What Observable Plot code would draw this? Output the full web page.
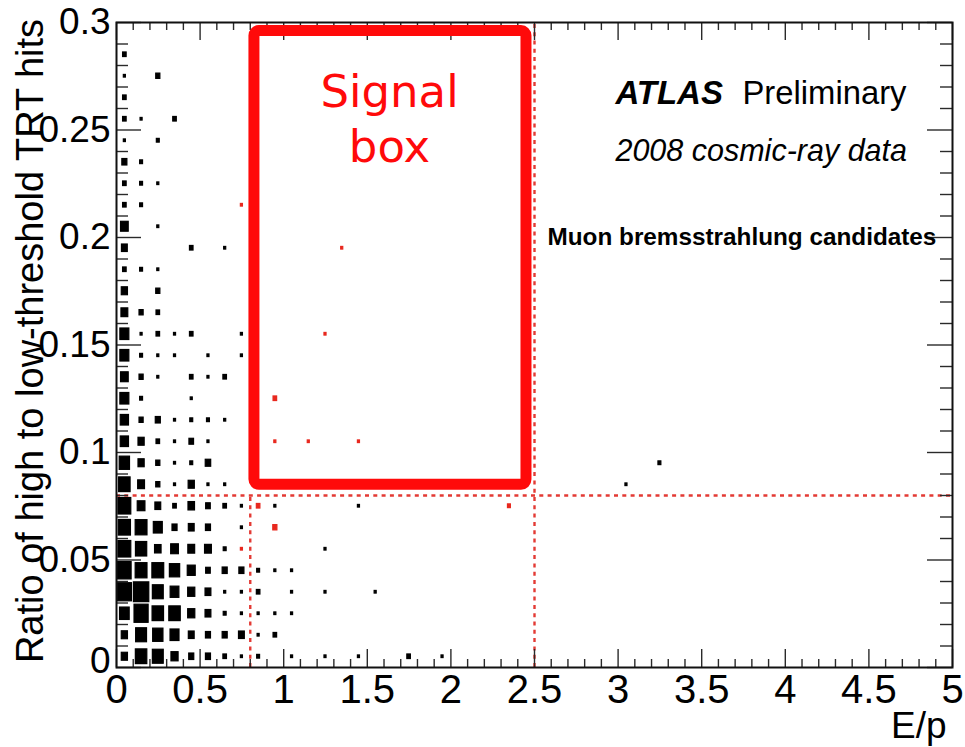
<!DOCTYPE html>
<html>
<head>
<meta charset="utf-8">
<script src="https://cdn.jsdelivr.net/npm/d3@7"></script>
<script src="https://cdn.jsdelivr.net/npm/@observablehq/plot@0.6"></script>
<style>
  html, body { margin: 0; padding: 0; background: #fff; }
  #chart { width: 965px; height: 747px; }
</style>
</head>
<body>
<div id="chart"></div>
<script>
// Histogram binning: E/p in steps of 0.1, hit ratio in steps of 0.01
const epBinWidth = 0.1;
const ratioBinWidth = 0.01;

// Entries per bin. Row j covers ratio [0.01 j, 0.01 (j+1)),
// column i covers E/p [0.1 i, 0.1 (i+1)).
const muonCounts = [
  [9, 31, 28, 12, 6, 6, 3, 1, 2, 0, 1, 0, 1, 0, 1],
  [9, 28, 25, 19, 8, 6, 6, 8, 1, 3],
  [22, 47, 31, 31, 12, 8, 2, 1, 1, 1, 1],
  [47, 56, 28, 18, 12, 8, 1, 1, 3, 0, 1, 0, 1, 0, 0, 1],
  [43, 33, 33, 25, 15, 5, 6, 6, 2, 1, 1],
  [39, 30, 10, 14, 11, 11, 2, 0, 0, 0, 0, 0, 1],
  [35, 33, 19, 6, 8, 6, 0, 1],
  [39, 14, 8, 3, 10, 5, 3, 1, 0, 1, 0, 0, 0, 0, 1],
  [31, 11, 4, 1, 9, 1, 1],
  [25, 9, 4, 1, 2, 7],
  [16, 9, 3, 1, 5, 1],
  [16, 4, 6, 1, 2, 2, 1],
  [19, 2, 0, 0, 1],
  [14, 4, 1, 0, 3, 1, 3],
  [19, 2, 1, 1, 0, 1, 0, 1],
  [19, 1, 3, 1, 3, 0, 0, 1],
  [11, 4, 3],
  [9, 0, 4],
  [3, 2, 1],
  [8, 0, 0, 0, 3, 0, 1],
  [14, 0, 1],
  [3, 2],
  [3, 2, 1],
  [6, 2],
  [1, 0, 2],
  [3, 1, 0, 3],
  [3],
  [1, 0, 4],
  [3],
  []
];

// Isolated entries at larger E/p: [E/p bin, ratio bin, entries]
const muonOutliers = [[17, 0, 3], [19, 0, 1], [30, 8, 1], [32, 9, 2]];

// Entries shown in red: [E/p bin, ratio bin, entries]
const redEntries = [
  [7, 21, 1], [13, 19, 1], [12, 15, 1], [9, 12, 3], [9, 10, 1], [11, 10, 1],
  [14, 10, 1], [8, 7, 3], [23, 7, 2], [9, 6, 4], [7, 5, 1]
];

// Selection cuts
const epCuts = [0.8, 2.5];
const ratioCut = 0.08;

// Hand-drawn signal box outline (E/p and ratio limits)
const signalBox = [{ep1: 0.825, ep2: 2.452, r1: 0.085, r2: 0.296}];

// Axis ticks
const xTicks = [0, 0.5, 1, 1.5, 2, 2.5, 3, 3.5, 4, 4.5, 5];
const yTicks = [0, 0.05, 0.1, 0.15, 0.2, 0.25, 0.3];
const xMinor = d3.range(0, 51).map(i => i / 10).filter(v => Math.round(v * 10) % 5 !== 0);
const yMinor = d3.range(0, 31).map(i => i / 100).filter(v => Math.round(v * 100) % 5 !== 0);

// Layout
const W = 965, H = 747;
const mTop = 22, mRight = 13, mBottom = 80, mLeft = 116;
const xDomain = [0, 5], yDomain = [0, 0.3];
const xPerPx = (xDomain[1] - xDomain[0]) / (W - mLeft - mRight);
const yPerPx = (yDomain[1] - yDomain[0]) / (H - mTop - mBottom);

// Flatten into cells
const muonCells = [];
muonCounts.forEach((row, j) => row.forEach((n, i) => {
  if (n > 0) muonCells.push({i, j, n});
}));
muonOutliers.forEach(([i, j, n]) => muonCells.push({i, j, n}));
const redCells = redEntries.map(([i, j, n]) => ({i, j, n}));

// Box surface proportional to bin content
const maxCount = d3.max(muonCells, d => d.n);
const frac = n => 0.92 * Math.sqrt(n / maxCount);
const boxRect = {
  x1: d => (d.i + 0.5) * epBinWidth - frac(d.n) * epBinWidth / 2,
  x2: d => (d.i + 0.5) * epBinWidth + frac(d.n) * epBinWidth / 2,
  y1: d => (d.j + 0.5) * ratioBinWidth - frac(d.n) * ratioBinWidth / 2,
  y2: d => (d.j + 0.5) * ratioBinWidth + frac(d.n) * ratioBinWidth / 2
};

const cutColor = "#e33a34";
const dash = "4,4.3";
const tickColor = "#2a2a2a";
const boxRed = "#ff0a0a";

const chart = Plot.plot({
  width: W,
  height: H,
  marginTop: mTop,
  marginRight: mRight,
  marginBottom: mBottom,
  marginLeft: mLeft,
  x: {domain: xDomain, axis: null},
  y: {domain: yDomain, axis: null},
  style: {fontFamily: "'Liberation Sans', Arial, Helvetica, sans-serif", background: "#fff", color: "#000"},
  marks: [
    // histogram boxes
    Plot.rect(muonCells, {...boxRect, fill: "#000", stroke: "#000", strokeWidth: 1.2}),
    Plot.rect(redCells, {...boxRect, fill: "#e8281e", stroke: "#e8281e", strokeWidth: 1.2}),

    // selection cuts
    Plot.ruleY([ratioCut], {stroke: cutColor, strokeWidth: 2.4, strokeDasharray: dash}),
    Plot.ruleX([epCuts[0]], {y1: () => 0, y2: () => ratioCut, stroke: cutColor, strokeWidth: 2.4, strokeDasharray: dash}),
    Plot.ruleX([epCuts[1]], {y1: () => yDomain[0], y2: () => yDomain[1], stroke: cutColor, strokeWidth: 2.4, strokeDasharray: dash}),

    // inward ticks on all four sides
    Plot.ruleX(xTicks, {x: d => d, y1: () => 0, y2: () => 18 * yPerPx, stroke: tickColor, strokeWidth: 1.4}),
    Plot.ruleX(xMinor, {x: d => d, y1: () => 0, y2: () => 8 * yPerPx, stroke: tickColor, strokeWidth: 1.4}),
    Plot.ruleX(xTicks, {x: d => d, y1: () => yDomain[1] - 18 * yPerPx, y2: () => yDomain[1], stroke: tickColor, strokeWidth: 1.4}),
    Plot.ruleX(xMinor, {x: d => d, y1: () => yDomain[1] - 8 * yPerPx, y2: () => yDomain[1], stroke: tickColor, strokeWidth: 1.4}),
    Plot.ruleY(yTicks, {y: d => d, x1: () => 0, x2: () => 25 * xPerPx, stroke: tickColor, strokeWidth: 1.4}),
    Plot.ruleY(yMinor, {y: d => d, x1: () => 0, x2: () => 12 * xPerPx, stroke: tickColor, strokeWidth: 1.4}),
    Plot.ruleY(yTicks, {y: d => d, x1: () => xDomain[1] - 25 * xPerPx, x2: () => xDomain[1], stroke: tickColor, strokeWidth: 1.4}),
    Plot.ruleY(yMinor, {y: d => d, x1: () => xDomain[1] - 12 * xPerPx, x2: () => xDomain[1], stroke: tickColor, strokeWidth: 1.4}),
    Plot.frame({stroke: "#111", strokeWidth: 2}),

    // tick labels (the zero of the ratio axis sits a little higher, clear of the E/p zero)
    Plot.text(xTicks, {x: d => d, text: d => String(d), frameAnchor: "bottom", lineAnchor: "top", dy: 7, fontSize: 40, ariaLabel: "x-tick-label"}),
    Plot.text(yTicks.filter(v => v > 0), {y: d => d, text: d => String(d), frameAnchor: "left", textAnchor: "end", dx: -6, fontSize: 37, ariaLabel: "y-tick-label"}),
    Plot.text(yTicks.filter(v => v === 0), {y: d => d, text: d => String(d), frameAnchor: "left", textAnchor: "end", dx: -6, dy: -6, fontSize: 37, ariaLabel: "y-tick-label"}),

    // axis titles
    Plot.text(["Ratio of high to low-threshold TRT hits"], {text: d => d, frameAnchor: "left", textAnchor: "middle", rotate: -90, dx: -86, dy: -4, fontSize: 38}),
    Plot.text(["E/p"], {text: d => d, frameAnchor: "bottom-right", textAnchor: "end", lineAnchor: "bottom", dx: -6, dy: 70, fontSize: 37}),

    // signal box annotation
    Plot.rect(signalBox, {x1: "ep1", x2: "ep2", y1: "r1", y2: "r2", fill: "none", stroke: boxRed, strokeWidth: 11, rx: 5}),
    Plot.text(["Signal"], {text: d => d, x: () => 1.633, y: () => 0.2609, lineAnchor: "bottom", fontSize: 45, fill: boxRed, fontFamily: "'DejaVu Sans', sans-serif", ariaLabel: "signal-word"}),
    Plot.text(["box"], {text: d => d, x: () => 1.633, y: () => 0.2349, lineAnchor: "bottom", fontSize: 45, fill: boxRed, fontFamily: "'DejaVu Sans', sans-serif", ariaLabel: "box-word"}),

    // plot legend text
    Plot.text(["ATLAS"], {text: d => d, x: () => 2.984, y: () => 0.2619, textAnchor: "start", lineAnchor: "bottom", fontSize: 33, fontWeight: "bold", fontStyle: "italic"}),
    Plot.text(["Preliminary"], {text: d => d, x: () => 3.744, y: () => 0.2619, textAnchor: "start", lineAnchor: "bottom", fontSize: 32.8}),
    Plot.text(["2008 cosmic-ray data"], {text: d => d, x: () => 2.984, y: () => 0.2358, textAnchor: "start", lineAnchor: "bottom", fontSize: 30.5, fontStyle: "italic"}),
    Plot.text(["Muon bremsstrahlung candidates"], {text: d => d, x: () => 2.578, y: () => 0.1963, textAnchor: "start", lineAnchor: "bottom", fontSize: 24.3, fontWeight: "bold"})
  ]
});

document.getElementById("chart").append(chart);

// Fit a few labels to their set widths
function fitWidth(selector, widthOf) {
  chart.querySelectorAll(selector).forEach(t => {
    const len = t.getComputedTextLength();
    t.setAttribute("textLength", widthOf(len).toFixed(1));
    t.setAttribute("lengthAdjust", "spacingAndGlyphs");
  });
}
fitWidth('g[aria-label="x-tick-label"] text', len => len * 0.84);
fitWidth('g[aria-label="y-tick-label"] text', len => len * 0.84);
fitWidth('g[aria-label="box-word"] text', () => 94);
</script>
</body>
</html>
